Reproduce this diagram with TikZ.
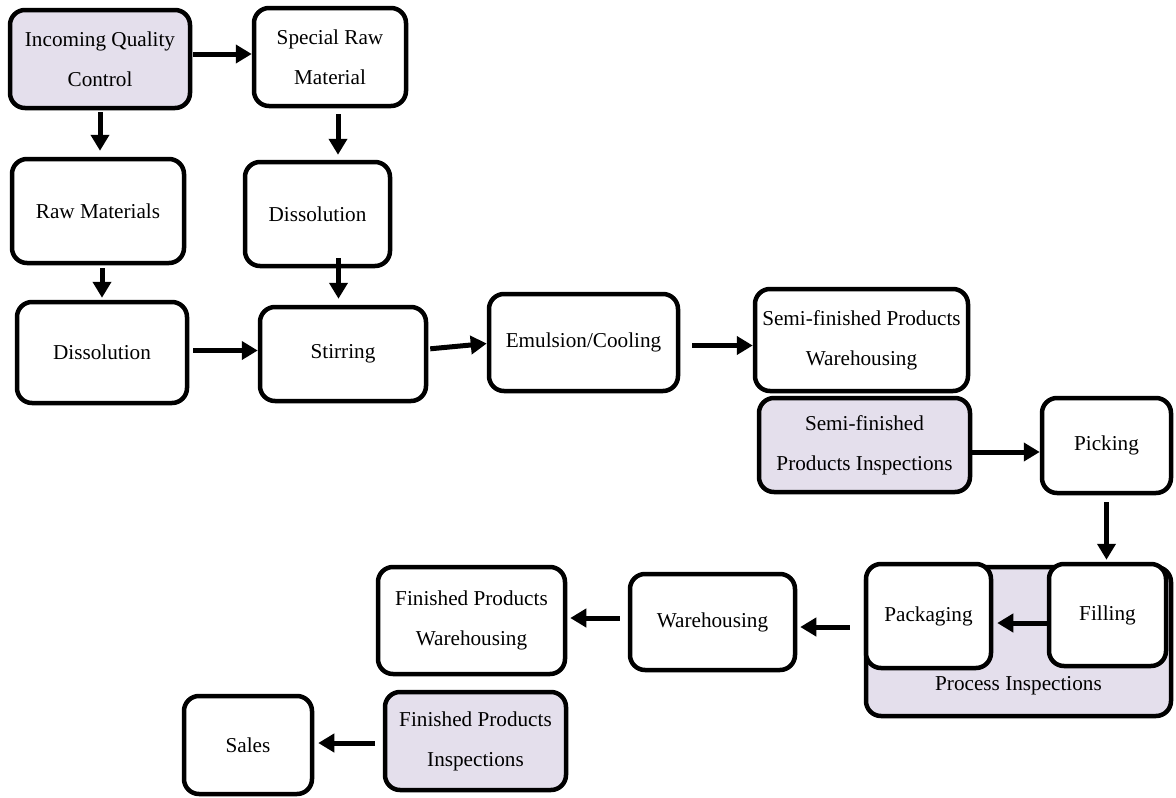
\documentclass[tikz,border=0pt]{standalone}
\usepackage{fontspec}
\setmainfont{Liberation Serif}
\usetikzlibrary{arrows.meta}
\definecolor{inspect}{RGB}{228,223,236}
\tikzset{
  stepbox/.style={draw=black, line width=4.5pt, rounded corners=15pt, fill=white,
    align=center, inner sep=2pt,
    font=\fontsize{21.2}{40}\selectfont},
  checkbox/.style={stepbox, fill=inspect},
  arr/.style={line width=5pt, -{Triangle[length=16pt,width=18pt]}},
}
\begin{document}
\begin{tikzpicture}[x=1pt,y=-1pt]
\useasboundingbox (0,0) rectangle (1176,798);

% upper branch: raw material preparation
\node[checkbox, minimum width=180pt, minimum height=98pt] (iqc) at (100,59) {Incoming Quality\\Control};
\node[stepbox, minimum width=152pt, minimum height=98pt] (srm) at (330,57) {Special Raw\\Material};
\node[stepbox, minimum width=172pt, minimum height=104pt] (raw) at (98,211) {Raw Materials};
\node[stepbox, minimum width=145pt, minimum height=104pt] (dis1) at (317.5,214) {Dissolution};
\node[stepbox, minimum width=170pt, minimum height=101pt] (dis2) at (102,352.5) {Dissolution};
\node[stepbox, minimum width=166pt, minimum height=94pt] (stir) at (343,354) {Stirring};
\node[stepbox, minimum width=189pt, minimum height=97pt] (emul) at (583.5,342.5) {Emulsion/Cooling};
\node[stepbox, minimum width=213pt, minimum height=102pt] (sfpw) at (861.5,340) {Semi-finished Products\\Warehousing};
\node[checkbox, minimum width=211pt, minimum height=94pt] (sfpi) at (864.5,445) {Semi-finished\\Products Inspections};
\node[stepbox, minimum width=129pt, minimum height=95pt] (pick) at (1106.5,445.5) {Picking};

% filling and packaging under process inspection
\node[checkbox, minimum width=305pt, minimum height=149pt] (proc) at (1018.5,641.5) {};
\node[font=\fontsize{21.2}{40}\selectfont] (proclbl) at (1018.5,686) {Process Inspections};
\node[stepbox, minimum width=125pt, minimum height=104pt] (pack) at (928.5,616) {Packaging};
\node[stepbox, minimum width=117pt, minimum height=102pt] (fill) at (1107.5,615) {Filling};

% lower branch: finished goods
\node[stepbox, minimum width=165pt, minimum height=96pt] (ware) at (712.5,622) {Warehousing};
\node[stepbox, minimum width=187pt, minimum height=107pt] (fpw) at (471.5,620.5) {Finished Products\\Warehousing};
\node[checkbox, minimum width=181pt, minimum height=98pt] (fpi) at (475.5,741) {Finished Products\\Inspections};
\node[stepbox, minimum width=128pt, minimum height=98pt] (sales) at (248,745) {Sales};

% connectors
\draw[arr, shorten <=1pt] ([yshift=5pt]iqc.east) -- ([yshift=5pt]iqc.east -| srm.west);
\draw[arr, shorten <=2pt, shorten >=6pt] (iqc.south) -- (iqc.south |- raw.north);
\draw[arr, shorten <=6pt, shorten >=5pt] ([xshift=8pt]srm.south) -- ([xshift=8pt]srm.south |- dis1.north);
\draw[arr, shorten <=3pt, shorten >=2pt] ([xshift=4pt]raw.south) -- ([xshift=4pt]raw.south |- dis2.north);
\draw[arr, shorten <=-10pt, shorten >=6pt] ([xshift=21pt]dis1.south) -- ([xshift=21pt]dis1.south |- stir.north);
\draw[arr, shorten <=4pt] ([yshift=2pt]dis2.east) -- ([yshift=2pt]dis2.east -| stir.west);
\draw[arr, shorten <=2pt] ([yshift=5pt]stir.east) -- ([yshift=-1pt]emul.west);
\draw[arr, shorten <=12pt] ([yshift=-3pt]emul.east) -- ([yshift=-3pt]emul.east -| sfpw.west);
\draw[arr] ([yshift=-7pt]sfpi.east) -- ([yshift=-7pt]sfpi.east -| pick.west);
\draw[arr, shorten <=7pt, shorten >=2pt] (pick.south) -- (pick.south |- fill.north);
\draw[arr, shorten >=4pt] ([yshift=-8pt]fill.west) -- ([yshift=-8pt]fill.west -| pack.east);
\draw[arr, shorten <=14pt, shorten >=3pt] ([yshift=-5pt]ware.east -| proc.west) -- ([yshift=-5pt]ware.east);
\draw[arr, shorten <=8pt, shorten >=3pt] ([yshift=4pt]ware.west) -- ([yshift=4pt]ware.west -| fpw.east);
\draw[arr, shorten <=8pt, shorten >=4pt] ([yshift=-2pt]fpi.west) -- ([yshift=-2pt]fpi.west -| sales.east);
\end{tikzpicture}
\end{document}
